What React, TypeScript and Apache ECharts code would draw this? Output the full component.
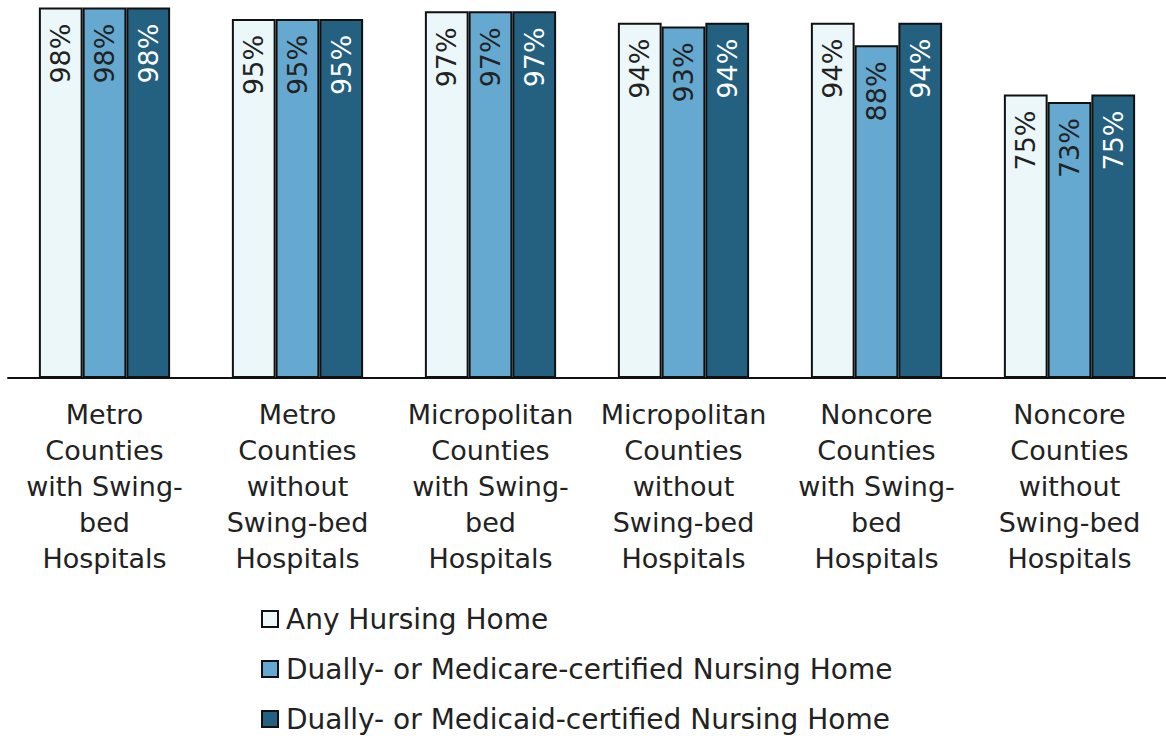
import React, { useEffect, useRef } from "react";
import * as echarts from "echarts";

const categories = [
  "Metro\nCounties\nwith Swing-\nbed\nHospitals",
  "Metro\nCounties\nwithout\nSwing-bed\nHospitals",
  "Micropolitan\nCounties\nwith Swing-\nbed\nHospitals",
  "Micropolitan\nCounties\nwithout\nSwing-bed\nHospitals",
  "Noncore\nCounties\nwith Swing-\nbed\nHospitals",
  "Noncore\nCounties\nwithout\nSwing-bed\nHospitals",
];
const seriesNames = [
  "Any Hursing Home",
  "Dually- or Medicare-certified Nursing Home",
  "Dually- or Medicaid-certified Nursing Home",
];
const anyNH = [98, 95, 97, 94, 94, 75];
const medicareNH = [98, 95, 97, 93, 88, 73];
const medicaidNH = [98, 95, 97, 94, 94, 75];
const colors = ["#EBF7F9", "#65A8D0", "#24607F"];
const labelColors = ["#222222", "#222222", "#FFFFFF"];

export default function App() {
  const ref = useRef<HTMLDivElement>(null);
  useEffect(() => {
    if (!ref.current) return;
    document.body.style.margin = "0";
    const chart = echarts.init(ref.current, undefined, { renderer: "svg" });
    const data = [anyNH, medicareNH, medicaidNH];
    chart.setOption({
      animation: false,
      legend: {
        orient: "vertical",
        left: 256,
        top: 600,
        height: 200,
        itemWidth: 16,
        itemHeight: 16,
        itemGap: 22,
        icon: "rect",
        textStyle: { fontFamily: "DejaVu Sans", fontSize: 28, color: "#222", padding: [0, 0, 0, 3] },
        data: seriesNames,
      },
      grid: { left: 8, right: 0, top: 0, height: 378, containLabel: false },
      xAxis: {
        type: "category",
        data: categories,
        axisTick: { show: false },
        axisLine: { lineStyle: { color: "#111", width: 2 } },
        axisLabel: {
          interval: 0,
          margin: 18,
          fontFamily: "DejaVu Sans",
          fontSize: 27,
          lineHeight: 36,
          color: "#222",
        },
      },
      yAxis: {
        type: "value",
        min: 0,
        max: 100,
        show: false,
        splitLine: { show: false },
      },
      series: seriesNames.map((name, i) => ({
        name,
        type: "bar",
        data: data[i],
        barGap: "0%",
        barCategoryGap: "32%",
        itemStyle: { color: colors[i], borderColor: "#111", borderWidth: 2 },
        label: {
          show: true,
          position: "insideTop",
          rotate: 90,
          align: "right",
          verticalAlign: "middle",
          distance: 16,
          formatter: "{c}%",
          fontFamily: "DejaVu Sans",
          fontSize: 27,
          color: labelColors[i],
        },
      })),
    });
    return () => chart.dispose();
  }, []);
  return <div ref={ref} style={{ width: 1166, height: 736 }} />;
}
